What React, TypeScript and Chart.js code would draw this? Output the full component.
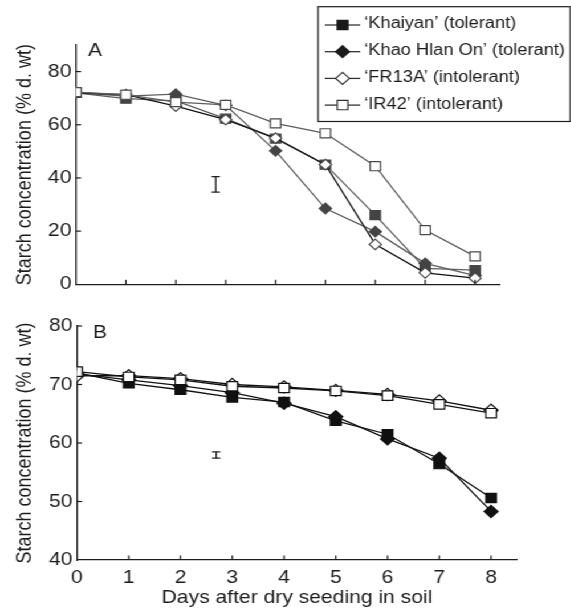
import React, { useEffect, useRef } from 'react';
import { Chart, registerables } from 'chart.js';

Chart.register(...registerables);

// ---------------- data ----------------
const days = [0, 1, 2, 3, 4, 5, 6, 7, 8];
const xTickLabels = ['0', '1', '2', '3', '4', '5', '6', '7', '8'];
const seriesNames = [
  '\u2018Khaiyan\u2019 (tolerant)',
  '\u2018Khao Hlan On\u2019 (tolerant)',
  '\u2018FR13A\u2019 (intolerant)',
  '\u2018IR42\u2019 (intolerant)',
];

// Panel A
const khaiyanA = [72, 69.8, 69, 62.3, 54.8, 45, 26, 6, 5.3];
const khaoHlanOnA = [72, 70.8, 71.5, 67.3, 50.2, 28.5, 19.8, 7.9, 3.3];
const fr13aA = [72, 71.3, 67, 61.9, 55, 45, 15, 4.3, 2.3];
const ir42A = [72.3, 71.3, 68.5, 67.5, 60.5, 56.8, 44.4, 20.4, 10.5];

// Panel B
const khaiyanB = [72, 70.2, 69.1, 67.8, 67, 63.8, 61.5, 56.4, 50.6];
const khaoHlanOnB = [71.8, 70.8, 69.8, 68.6, 66.8, 64.5, 60.7, 57.4, 48.3];
const fr13aB = [71.5, 71.5, 71, 70, 69.6, 69, 68.3, 67.2, 65.6];
const ir42B = [72.2, 71.3, 70.8, 69.7, 69.4, 68.9, 68.1, 66.6, 65.1];

const yTicksA = [0, 20, 40, 60, 80];
const yTicksB = [40, 50, 60, 70, 80];

// LSD bars: [day, low, high]
const lsdA = [2.8, 34.7, 40.5];
const lsdB = [2.69, 57.4, 58.5];

const panelLetters = ['A', 'B'];

// ---------------- layout / style ----------------
const K = 1.14; // horizontal stretch of the figure
const W = 501;
const FONT = "'Liberation Sans', Arial, Helvetica, sans-serif";
const INK = '#1c1c1c';

Chart.defaults.font.family = FONT;
Chart.defaults.color = INK;

function drawMarker(ctx: CanvasRenderingContext2D, style: string, x: number, y: number, r: number, fill: string, stroke: string, lw: number) {
  ctx.beginPath();
  if (style === 'rect') {
    const s = r * Math.SQRT1_2;
    ctx.rect(x - s, y - s, 2 * s, 2 * s);
  } else {
    ctx.moveTo(x - r, y);
    ctx.lineTo(x, y - r);
    ctx.lineTo(x + r, y);
    ctx.lineTo(x, y + r);
    ctx.closePath();
  }
  ctx.fillStyle = fill;
  ctx.fill();
  ctx.strokeStyle = stroke;
  ctx.lineWidth = lw;
  ctx.stroke();
}

const decorPlugin = {
  id: 'decor',
  afterDraw(chart: any, _args: any, o: any) {
    const { ctx } = chart;
    const x = chart.scales.x;
    const y = chart.scales.y;
    ctx.save();
    ctx.strokeStyle = INK;
    ctx.lineWidth = 1.2;
    // inward tick marks
    o.xTicks.forEach((v: number) => {
      if (v === x.min) return;
      const px = x.getPixelForValue(v);
      ctx.beginPath();
      ctx.moveTo(px, y.bottom);
      ctx.lineTo(px, y.bottom - o.tickLenY);
      ctx.stroke();
    });
    o.yTicks.forEach((v: number) => {
      if (v === y.min) return;
      const py = y.getPixelForValue(v);
      ctx.beginPath();
      ctx.moveTo(x.left, py);
      ctx.lineTo(x.left + o.tickLenX, py);
      ctx.stroke();
    });
    // LSD bar
    const ex = x.getPixelForValue(o.lsd[0]);
    const eLo = y.getPixelForValue(o.lsd[1]);
    const eHi = y.getPixelForValue(o.lsd[2]);
    ctx.beginPath();
    ctx.moveTo(ex, eLo);
    ctx.lineTo(ex, eHi);
    ctx.moveTo(ex - o.cap, eLo);
    ctx.lineTo(ex + o.cap, eLo);
    ctx.moveTo(ex - o.cap, eHi);
    ctx.lineTo(ex + o.cap, eHi);
    ctx.stroke();
    // panel letter
    ctx.fillStyle = INK;
    ctx.font = `18.5px ${FONT}`;
    ctx.textAlign = 'left';
    ctx.textBaseline = 'alphabetic';
    ctx.fillText(o.letter, o.letterX, o.letterY);
    // legend box
    if (o.legend && o.legend.show) {
      const L = o.legend;
      ctx.fillStyle = '#fff';
      ctx.fillRect(L.left, L.top, L.right - L.left, L.bottom - L.top);
      ctx.strokeStyle = INK;
      ctx.lineWidth = 1.2;
      ctx.strokeRect(L.left, L.top, L.right - L.left, L.bottom - L.top);
      chart.data.datasets.forEach((ds: any, i: number) => {
        const cy = L.firstRow + i * L.rowGap;
        ctx.beginPath();
        ctx.moveTo(L.lineX1, cy);
        ctx.lineTo(L.lineX2, cy);
        ctx.strokeStyle = '#333';
        ctx.lineWidth = 1.3;
        ctx.stroke();
        const open = ds.pointBackgroundColor === '#fff';
        drawMarker(ctx, ds.pointStyle, L.markerX, cy, ds.pointStyle === 'rect' ? 6.6 : 6, open ? '#fff' : '#1a1a1a', open ? '#333' : '#1a1a1a', 1.2);
        ctx.fillStyle = INK;
        ctx.font = `16px ${FONT}`;
        ctx.textBaseline = 'middle';
        ctx.fillText(ds.label, L.textX, cy - 1);
      });
    }
    ctx.restore();
  },
};

function buildConfig(panel: 'A' | 'B') {
  const isA = panel === 'A';
  const values = isA ? [khaiyanA, khaoHlanOnA, fr13aA, ir42A] : [khaiyanB, khaoHlanOnB, fr13aB, ir42B];
  const grayLine = isA ? '#5e5e5e' : '#111';
  const filled = isA ? '#444' : '#111';
  const openBorder = isA ? '#4a4a4a' : '#111';
  const sq = isA ? 6.4 : 6.6;
  const dm = isA ? 5.3 : 6.1;
  const styles = [
    { ps: 'rect', fill: filled, border: filled, line: grayLine, r: sq, order: 3 },
    { ps: 'rectRot', fill: filled, border: filled, line: grayLine, r: dm, order: 2 },
    { ps: 'rectRot', fill: '#fff', border: openBorder, line: '#111', r: dm, order: 1 },
    { ps: 'rect', fill: '#fff', border: openBorder, line: grayLine, r: sq, order: 0 },
  ];
  const datasets = values.map((vals, i) => ({
    label: seriesNames[i],
    data: days.map((d, j) => ({ x: d, y: vals[j] })),
    borderColor: styles[i].line,
    borderWidth: 1.3,
    pointStyle: styles[i].ps,
    pointRadius: styles[i].r,
    pointHoverRadius: styles[i].r,
    pointBackgroundColor: styles[i].fill,
    pointBorderColor: styles[i].border,
    pointBorderWidth: 1.2,
    order: styles[i].order,
    tension: 0,
    fill: false,
  }));

  return {
    type: 'line',
    data: { datasets },
    plugins: [decorPlugin],
    options: {
      responsive: false,
      maintainAspectRatio: false,
      animation: false,
      events: [],
      layout: {
        padding: isA
          ? { top: 45, right: 62.4, bottom: 0, left: 0 }
          : { top: 26, right: 47.5, bottom: 0, left: 0 },
      },
      plugins: {
        legend: { display: false },
        tooltip: { enabled: false },
        decor: {
          xTicks: days,
          yTicks: isA ? yTicksA : yTicksB,
          tickLenX: 4.4,
          tickLenY: 4.5,
          lsd: isA ? lsdA : lsdB,
          cap: 3.6,
          letter: isA ? panelLetters[0] : panelLetters[1],
          letterX: isA ? 77.3 : 81.6,
          letterY: isA ? 55.5 : 37.5,
          legend: {
            show: isA,
            left: 279,
            top: 6.7,
            right: 500.2,
            bottom: 121.5,
            firstRow: 25,
            rowGap: 26.7,
            lineX1: 285,
            lineX2: 316,
            markerX: 300.5,
            textX: 319.5,
          },
        },
      },
      scales: {
        x: {
          type: 'linear',
          min: 0,
          max: 8.5,
          grid: { display: false, drawTicks: false },
          border: { display: true, color: INK, width: 1.3 },
          afterBuildTicks: (s: any) => {
            s.ticks = days.map((v) => ({ value: v }));
          },
          afterFit: (s: any) => {
            s.height = isA ? 11.7 : 50;
            s.paddingLeft = 0;
            s.paddingRight = 0;
          },
          ticks: {
            display: !isA,
            color: INK,
            font: { size: 18.5, family: FONT },
            padding: 6.5,
            maxRotation: 0,
            autoSkip: false,
            callback: (v: number) => xTickLabels[days.indexOf(v)],
          },
          title: {
            display: !isA,
            text: 'Days after dry seeding in soil',
            color: INK,
            font: { size: 18.5, family: FONT },
            padding: { top: 0, bottom: 1 },
          },
        },
        y: {
          type: 'linear',
          min: isA ? 0 : 40,
          max: isA ? 90 : 80,
          grid: { display: false, drawTicks: false },
          border: { display: true, color: INK, width: 1.3 },
          afterBuildTicks: (s: any) => {
            s.ticks = (isA ? yTicksA : yTicksB).map((v) => ({ value: v }));
          },
          afterFit: (s: any) => {
            s.width = isA ? 66.7 : 67.5;
            s.paddingTop = 0;
            s.paddingBottom = 0;
          },
          ticks: {
            color: INK,
            font: { size: 18.5, family: FONT },
            padding: 4,
          },
          title: {
            display: true,
            text: 'Starch concentration (% d. wt)',
            color: INK,
            font: { size: 18, family: FONT },
            padding: { top: 11, bottom: 0 },
          },
        },
      },
    },
  };
}

function Panel({ panel, top, height }: { panel: 'A' | 'B'; top: number; height: number }) {
  const ref = useRef<HTMLCanvasElement | null>(null);
  useEffect(() => {
    if (!ref.current) return;
    const chart = new Chart(ref.current, buildConfig(panel) as any);
    return () => chart.destroy();
  }, [panel]);
  return (
    <canvas
      ref={ref}
      width={W}
      height={height}
      style={{ position: 'absolute', left: 0, top, width: W, height }}
    />
  );
}

export default function App() {
  return (
    <div
      style={{
        position: 'absolute',
        left: 0,
        top: 0,
        width: W,
        height: 610,
        background: '#fff',
        transform: `scaleX(${K})`,
        transformOrigin: '0 0',
      }}
    >
      <Panel panel="A" top={0} height={296} />
      <Panel panel="B" top={300} height={310} />
    </div>
  );
}
